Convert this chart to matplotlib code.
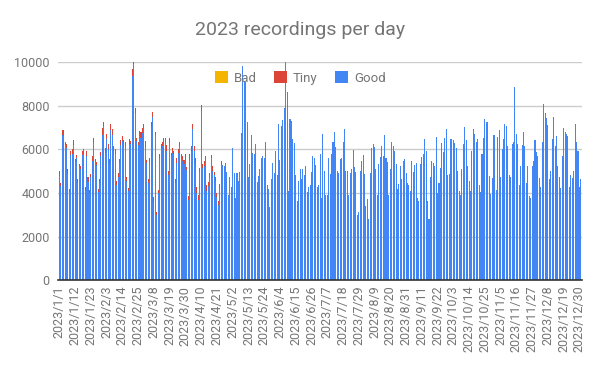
import matplotlib
matplotlib.use("Agg")
import matplotlib.pyplot as plt
import numpy as np
import pandas as pd
from matplotlib.patches import Patch

plt.rcParams['font.family'] = ['Roboto', 'DejaVu Sans']

dates = pd.date_range('2023-01-01', '2023-12-31', freq='D')

# total recordings per day
totals = [
    # Jan 1 - Jan 31
    5030,4460,6880,6880,6350,6230,5120,4200,5950,6030,6420,5580,5740,4660,5350,5260,5950,6030,4260,5950,4720,4150,4890,5690,6510,5580,5420,4200,4660,5880,6970,
    # Feb 1 - Mar 5
    7280,6080,6690,6230,5540,7150,6920,6150,6000,4540,4920,5540,6420,6620,6420,6350,4720,4230,6460,6380,9690,10080,7890,6540,6350,6850,6820,6970,7180,6380,5520,4620,5620,
    # Mar 6 - Apr 7
    7280,7740,3800,6820,3120,4150,5770,6260,6350,6540,6540,6200,5030,6540,5850,6050,5950,4620,5620,6030,6320,5800,5690,5520,5770,5190,3850,5770,6140,7180,6140,5590,4260,
    # Apr 8 - May 11
    3890,5150,8060,5340,5490,5690,4350,4510,4920,5740,5260,4970,4720,4000,3650,4420,5490,5280,5250,5370,4970,3920,4750,4290,6050,4920,3770,4920,4570,4970,6750,9850,9150,9080,
    # May 12 - Jun 14
    7250,4720,5310,6660,5850,5770,6260,4510,4770,5080,5590,5690,5620,6320,4350,4200,3340,4660,5370,4910,5950,4820,7180,5520,7080,7340,7920,10050,8660,4080,7380,7310,6490,6310,
    # Jun 15 - Jul 17
    4820,3620,4570,5080,4660,5080,4820,5220,4050,4260,4350,4970,5720,5590,5280,4260,4350,5770,3770,6690,5000,3920,3890,5590,4880,5770,6320,6820,6110,5030,4910,5540,5590,
    # Jul 18 - Aug 20
    6320,6920,5030,5000,3890,4910,5120,5980,5190,4970,3000,3150,5030,5490,5740,4850,3380,3740,2820,4910,6050,6230,6110,5120,3920,5310,5650,6150,5690,6660,5620,5430,3890,5080,
    # Aug 21 - Sep 23
    6320,6150,5950,5310,4200,4430,5220,4660,5460,5540,4910,4450,4380,4110,5490,4970,5280,5380,3770,3650,5310,5650,5770,6460,5920,3650,2820,4750,5490,5370,5220,6570,4020,4450,
    # Sep 24 - Oct 27
    5150,6290,5860,6510,6920,4820,4880,6460,6460,6420,6310,6080,5000,4080,3890,5120,6230,7030,6420,5220,4570,4110,5950,6920,6690,6350,6460,4350,4050,5770,6510,7380,7250,7250,
    # Oct 28 - Nov 30
    4770,3950,4690,6660,6660,4150,6570,6880,4750,6000,6460,7150,7080,6140,4820,4750,6230,6320,8880,6720,6260,4380,5220,6200,6790,6140,4480,5250,3850,3770,5250,5490,6420,5860,
    # Dec 1 - Dec 31
    5720,4690,4290,6320,8080,7690,7430,7120,4620,5030,6460,7490,6150,6600,5260,4740,4230,5680,6970,6790,6690,6600,4290,4820,4690,5030,7150,6350,5950,4290,4660,
]

# "Tiny" recordings (red caps), visible only until late April
tiny_early = [
    250,150,200,250,150,150,200,150,200,250,200,150,150,200,150,150,200,200,150,250,200,150,150,200,200,150,150,150,200,200,300,
    200,250,200,200,200,250,250,200,200,150,200,150,200,250,150,200,150,150,200,150,300,150,200,150,150,250,300,200,200,250,150,150,200,
    250,250,200,150,150,150,200,200,200,250,200,250,200,250,150,200,150,150,250,200,150,250,200,200,250,150,150,250,200,250,200,250,250,
    200,200,300,200,250,200,250,200,250,150,250,150,150,200,200,250,200,
]
tiny = tiny_early + [0] * (len(totals) - len(tiny_early))
bad = [0] * len(totals)

totals = np.array(totals, dtype=float)
tiny = np.array(tiny, dtype=float)
bad = np.array(bad, dtype=float)
good = totals - tiny - bad

c_bad = '#F4B400'
c_tiny = '#DB4437'
c_good = '#4285F4'

fig = plt.figure(figsize=(6.0, 3.71), dpi=100)
ax = fig.add_axes([0.097, 0.245, 0.873, 0.587])

x = np.arange(len(totals))
w = 0.72
ax.bar(x, good, width=w, color=c_good, linewidth=0, zorder=3)
ax.bar(x, tiny, width=w, bottom=good, color=c_tiny, linewidth=0, zorder=3)
ax.bar(x, bad, width=w, bottom=good + tiny, color=c_bad, linewidth=0, zorder=3)

ax.set_xlim(-0.8, len(totals) - 0.2)
ax.set_ylim(0, 10000)
ax.set_yticks([0, 2000, 4000, 6000, 8000, 10000])
ax.set_yticklabels(['0', '2000', '4000', '6000', '8000', '10000'])
ax.yaxis.grid(True, color='#cccccc', linewidth=1, zorder=0)
ax.set_axisbelow(True)
for s in ['top', 'right', 'left']:
    ax.spines[s].set_visible(False)
ax.spines['bottom'].set_color('#333333')
ax.spines['bottom'].set_linewidth(1.2)
ax.spines['bottom'].set_zorder(5)
ax.tick_params(axis='y', length=0, colors='#757575', labelsize=9, pad=6)

tick_pos = x[::11]
tick_lab = [f"{d.year}/{d.month}/{d.day}" for d in dates[::11]]
ax.set_xticks(tick_pos)
ax.set_xticklabels(tick_lab, rotation=90, fontsize=9, color='#757575')
ax.tick_params(axis='x', length=0, pad=4)

fig.text(0.5, 0.918, '2023 recordings per day', ha='center', va='center',
         fontsize=14, color='#757575')

handles = [Patch(facecolor=c_bad, edgecolor='none'),
           Patch(facecolor=c_tiny, edgecolor='none'),
           Patch(facecolor=c_good, edgecolor='none')]
leg = ax.legend(handles, ['Bad', 'Tiny', 'Good'], loc='center',
                bbox_to_anchor=(0.462, 0.928), ncol=3, frameon=False,
                handlelength=1.0, handleheight=1.0, handletextpad=0.45,
                columnspacing=1.3, fontsize=9.5)
for t in leg.get_texts():
    t.set_color('#757575')

fig.savefig('out.png', dpi=100)
